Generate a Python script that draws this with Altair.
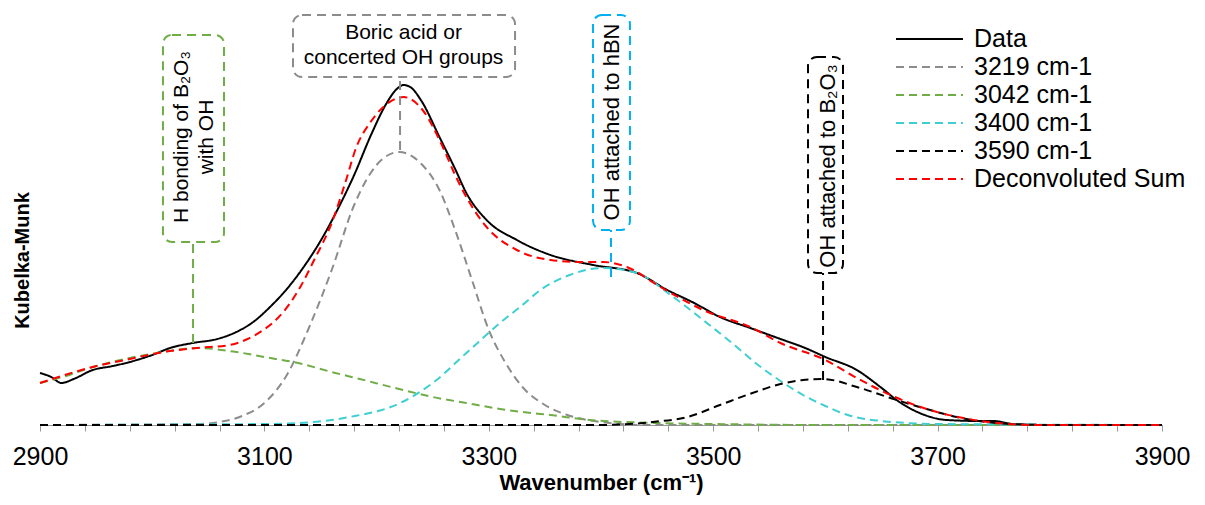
import altair as alt
import pandas as pd

# ---------------- data ----------------
names = ["Data", "3219 cm-1", "3042 cm-1", "3400 cm-1", "3590 cm-1", "Deconvoluted Sum"]
colors = ["#000000", "#8C8C8C", "#70AD47", "#3ECFD2", "#000000", "#FF0000"]

data_wn = [2900, 2910, 2919, 2930, 2947, 2965, 2980, 3000, 3016, 3036, 3058, 3075, 3090, 3105,
           3120, 3135, 3150, 3165, 3180, 3195, 3209, 3218, 3224, 3230, 3240, 3256, 3270, 3280,
           3298, 3325, 3355, 3393, 3432, 3459, 3483, 3506, 3533, 3560, 3582, 3600, 3628, 3649,
           3666, 3684, 3708, 3738, 3750, 3767, 3800, 3900]
data_km = [0.52, 0.48, 0.42, 0.46, 0.55, 0.59, 0.63, 0.70, 0.77, 0.82, 0.86, 0.93, 1.03, 1.18,
           1.36, 1.58, 1.84, 2.15, 2.50, 2.90, 3.22, 3.36, 3.40, 3.38, 3.24, 2.88, 2.56, 2.32,
           2.05, 1.85, 1.70, 1.60, 1.52, 1.35, 1.22, 1.08, 0.97, 0.86, 0.77, 0.68, 0.55, 0.38,
           0.23, 0.12, 0.05, 0.04, 0.04, 0.01, 0.0, 0.0]

p3219_wn = [2900, 3040, 3060, 3080, 3100, 3120, 3140, 3160, 3180, 3200, 3220, 3240, 3256, 3270,
            3285, 3300, 3315, 3330, 3350, 3370, 3400, 3440, 3900]
p3219_km = [0.0, 0.01, 0.03, 0.09, 0.22, 0.50, 0.98, 1.55, 2.20, 2.60, 2.73, 2.61, 2.35, 1.95,
            1.45, 0.95, 0.62, 0.38, 0.20, 0.10, 0.03, 0.0, 0.0]

p3042_wn = [2900, 2920, 2947, 2980, 3010, 3040, 3075, 3100, 3130, 3160, 3185, 3220, 3250, 3280,
            3310, 3330, 3355, 3390, 3450, 3500, 3600, 3900]
p3042_km = [0.42, 0.48, 0.58, 0.67, 0.73, 0.77, 0.73, 0.68, 0.62, 0.53, 0.46, 0.36, 0.28, 0.22,
            0.16, 0.13, 0.10, 0.05, 0.02, 0.01, 0.0, 0.0]

p3400_wn = [2900, 3100, 3132, 3176, 3221, 3250, 3280, 3310, 3330, 3346, 3372, 3402, 3432, 3462,
            3491, 3521, 3540, 3560, 3580, 3600, 3620, 3650, 3700, 3900]
p3400_km = [0.0, 0.01, 0.02, 0.08, 0.22, 0.42, 0.72, 1.02, 1.20, 1.35, 1.50, 1.57, 1.52, 1.30,
            1.05, 0.78, 0.60, 0.44, 0.30, 0.19, 0.10, 0.04, 0.01, 0.0]

p3590_wn = [2900, 3400, 3446, 3477, 3506, 3535, 3560, 3580, 3598, 3628, 3658, 3687, 3717, 3753,
            3800, 3900]
p3590_km = [0.0, 0.0, 0.03, 0.08, 0.20, 0.32, 0.41, 0.45, 0.46, 0.38, 0.27, 0.17, 0.08, 0.02,
            0.0, 0.0]

sum_wn = [2900, 2947, 2980, 3010, 3040, 3069, 3085, 3099, 3112, 3123, 3133, 3143, 3161, 3172,
          3182, 3194, 3206, 3224, 3241, 3259, 3270, 3280, 3298, 3325, 3355, 3380, 3402, 3423,
          3453, 3491, 3535, 3560, 3600, 3628, 3658, 3693, 3723, 3753, 3790, 3900]
sum_km = [0.42, 0.58, 0.66, 0.73, 0.77, 0.80, 0.86, 0.95, 1.07, 1.22, 1.40, 1.62, 2.05, 2.42,
          2.78, 3.02, 3.18, 3.28, 3.15, 2.78, 2.50, 2.28, 1.98, 1.75, 1.65, 1.63, 1.63, 1.58,
          1.38, 1.15, 0.97, 0.82, 0.65, 0.47, 0.30, 0.15, 0.07, 0.02, 0.0, 0.0]

series_wn = [data_wn, p3219_wn, p3042_wn, p3400_wn, p3590_wn, sum_wn]
series_km = [data_km, p3219_km, p3042_km, p3400_km, p3590_km, sum_km]

# annotations (data coordinates)
ann_text = ["H bonding of B\u2082O\u2083\nwith OH", "Boric acid or\nconcerted OH groups",
            "OH attached to hBN", "OH attached to B\u2082O\u2083"]
ann_color = ["#70AD47", "#8C8C8C", "#00B0F0", "#000000"]
box_x1 = [3009.6, 3125.5, 3392.9, 3584.5]
box_x2 = [3064.0, 3323.4, 3425.8, 3615.7]
box_y1 = [1.83, 3.48, 1.95, 1.52]
box_y2 = [3.90, 4.10, 4.10, 3.68]
lead_x = [3036.4, 3220.9, 3408.9, 3597.9]
lead_y1 = [0.82, 2.75, 1.48, 0.45]
# anchor of the first text line
txt_x = [3027.0, 3224.0, 3409.5, 3602.0]
txt_y = [2.88, 3.92, 3.03, 2.59]
txt_angle = [270, 0, 270, 270]
txt_size = [21, 21, 22, 22]

x_ticks = list(range(2900, 3901, 40))

# ---------------- tables ----------------
rows = []
for n, ws, ks in zip(names, series_wn, series_km):
    for w, k in zip(ws, ks):
        rows.append({"series": n, "wn": w, "km": k})
df = pd.DataFrame(rows)

ann = pd.DataFrame({"text": ann_text, "color": ann_color, "x1": box_x1, "x2": box_x2,
                    "y1": box_y1, "y2": box_y2, "lx": lead_x, "ly1": lead_y1,
                    "tx": txt_x, "ty": txt_y, "angle": txt_angle, "size": txt_size})

FONT = "Liberation Sans"

xscale = alt.Scale(domain=[2900, 3900], nice=False, zero=False)
yscale = alt.Scale(domain=[0, 4.15], nice=False)

dash_range = [[1, 0], [8, 5], [8, 5], [8, 5], [8, 5], [8, 5]]

lines = alt.Chart(df).mark_line(strokeWidth=2, interpolate="monotone").encode(
    x=alt.X("wn:Q", scale=xscale,
            axis=alt.Axis(values=x_ticks, format="d", title="Wavenumber (cm\u207b\u00b9)",
                          labelExpr="(datum.value - 2900) % 200 == 0 ? datum.label : ''",
                          grid=False, tickSize=6, tickColor="#999999", domainColor="#999999",
                          labelFontSize=25, labelColor="#000000", labelPadding=13,
                          labelOverlap=False, labelFlush=False, titleFontSize=22,
                          titleFontWeight="bold", titleColor="#000000", titlePadding=3)),
    y=alt.Y("km:Q", scale=yscale,
            axis=alt.Axis(title="Kubelka-Munk", labels=False, ticks=False, domain=False,
                          grid=False, titleFontSize=20, titleFontWeight="bold",
                          titleColor="#000000", titleAngle=270, titleX=-18, titleY=250,
                          titleAlign="center", titleBaseline="middle")),
    color=alt.Color("series:N", sort=names, scale=alt.Scale(domain=names, range=colors),
                    legend=alt.Legend(title=None, orient="none", legendX=855, legendY=15,
                                      symbolType="M-1,0H4.15", symbolSize=676,
                                      symbolStrokeWidth=2, labelFontSize=25,
                                      labelColor="#000000", labelOffset=51, rowPadding=1,
                                      labelLimit=400)),
    strokeDash=alt.StrokeDash("series:N", sort=names,
                              scale=alt.Scale(domain=names, range=dash_range)),
    order=alt.Order("wn:Q"),
)

boxes = alt.Chart(ann).mark_rect(cornerRadius=9, fill="white", strokeWidth=2,
                                 strokeDash=[9, 6]).encode(
    x="x1:Q", x2="x2:Q", y="y1:Q", y2="y2:Q",
    stroke=alt.Stroke("color:N", scale=None),
)

leaders = alt.Chart(ann).mark_rule(strokeWidth=2, strokeDash=[9, 6]).encode(
    x="lx:Q", y="ly1:Q", y2="y1:Q",
    stroke=alt.Stroke("color:N", scale=None),
)

texts = alt.Chart(ann).mark_text(lineBreak="\n", lineHeight=25, align="center",
                                 baseline="middle", color="#000000", font=FONT).encode(
    x="tx:Q", y="ty:Q", text="text:N",
    angle=alt.Angle("angle:Q", scale=None),
    size=alt.Size("size:Q", scale=None),
)

chart = alt.layer(lines, leaders, boxes, texts).properties(
    width=1122, height=415,
    autosize=alt.AutoSizeParams(type="none"),
    padding={"left": 32, "top": 2, "right": 35, "bottom": 72},
).configure(font=FONT).configure_view(stroke=None)

chart.save("out.html", embed_options={"renderer": "svg", "actions": False})
